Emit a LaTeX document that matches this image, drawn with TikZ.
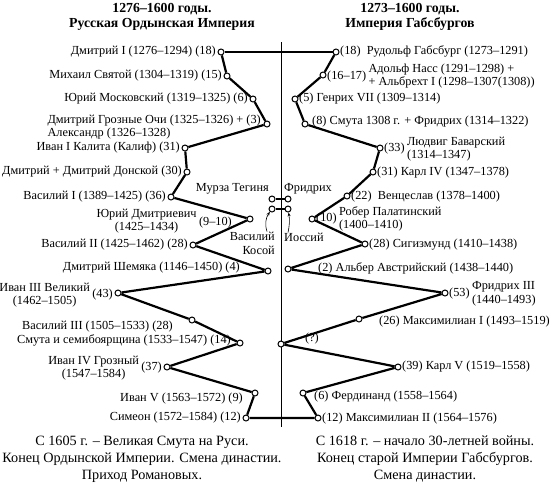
\documentclass[tikz,border=0pt]{standalone}
\usepackage{fontspec}
\setmainfont{Liberation Serif}
\usetikzlibrary{arrows.meta,calc}
\begin{document}
\begin{tikzpicture}[x=1pt,y=-1pt,
  dot/.style={circle,draw,fill=white,line width=1pt,inner sep=0pt,minimum size=6pt},
  conn/.style={line width=2.2pt},
  thin conn/.style={line width=1.6pt},
  axis/.style={line width=1pt},
  lab/.style={font=\fontsize{12.3}{13.8}\selectfont,inner sep=1pt},
  ttl/.style={font=\fontsize{13.8}{14.5}\selectfont\bfseries,align=center,inner sep=0pt},
  note/.style={font=\fontsize{14.2}{17}\selectfont,align=center,inner sep=0pt},
  arr/.style={-{Stealth[length=4pt,width=3pt]},line width=0.6pt}]
\useasboundingbox (0,0) rectangle (551,485);
\fill[white] (0,0) rectangle (551,485);

% titles
\node[ttl] (tl) at (162,17) {1276–1600 годы.\\Русская Ордынская Империя};
\node[ttl] (tr) at (410,17) {1273–1600 годы.\\Империя Габсбургов};

% axis
\coordinate (ctop) at (281,42);
\coordinate (cbot) at (281,427);
\draw[axis] (ctop) -- (cbot);

% left dots
\node[dot] (l1)  at (221,52) {};
\node[dot] (l2)  at (227,76) {};
\node[dot] (l3)  at (253,99) {};
\node[dot] (l4)  at (267,124) {};
\node[dot] (l5)  at (185,148) {};
\node[dot] (l6)  at (187,172) {};
\node[dot] (l7)  at (171,197) {};
\node[dot] (l8)  at (250,219) {};
\node[dot] (l9)  at (193,245) {};
\node[dot] (l10) at (268,271) {};
\node[dot] (l11) at (118,293) {};
\node[dot] (l12) at (192,320) {};
\node[dot] (l13) at (240,343) {};
\node[dot] (l14) at (167,367) {};
\node[dot] (l15) at (255,393) {};
\node[dot] (l16) at (246,418) {};

% right dots
\node[dot] (r1)  at (336,52) {};
\node[dot] (r2)  at (323,75) {};
\node[dot] (r3)  at (295,99) {};
\node[dot] (r4)  at (305,124) {};
\node[dot] (r5)  at (380,148) {};
\node[dot] (r6)  at (373,172) {};
\node[dot] (r7)  at (347,196) {};
\node[dot] (r8)  at (312,219) {};
\node[dot] (r9)  at (365,244) {};
\node[dot] (r10) at (288,269) {};
\node[dot] (r11) at (445,293) {};
\node[dot] (r12) at (359,319) {};
\node[dot] (r13) at (281,344) {};
\node[dot] (r14) at (398,367) {};
\node[dot] (r15) at (303,393) {};
\node[dot] (r16) at (318,418) {};

% central small dots
\node[dot] (t1) at (272,199) {};
\node[dot] (t2) at (288,199) {};
\node[dot] (b1) at (272,209) {};
\node[dot] (b2) at (288,209) {};
\draw[thin conn] (t1) -- (t2);
\draw[thin conn] (b1) -- (b2);

% connectors
\draw[conn] (l1) -- (r1);
\draw[conn] (l1) -- (l2) -- (l3) -- (l4) -- (l5) -- (l6) -- (l7) -- (l8) -- (l9) -- (l10) -- (l11) -- (l12) -- (l13) -- (l14) -- (l15) -- (l16) -- (r16);
\draw[conn] (r1) -- (r2) -- (r3) -- (r4) -- (r5) -- (r6) -- (r7) -- (r8) -- (r9) -- (r10) -- (r11) -- (r12) -- (r13) -- (r14) -- (r15) -- (r16);

% left labels
\node[lab,anchor=east] (a1) at (217,52) {Дмитрий I (1276–1294) (18)};
\node[lab,anchor=east] (a2) at (223,76) {Михаил Святой (1304–1319) (15)};
\node[lab,anchor=east] (a3) at (249,99) {Юрий Московский (1319–1325) (6)};
\node[lab,anchor=east,align=left] (a4) at (262,127) {Дмитрий Грозные Очи (1325–1326) + (3)\\Александр (1326–1328)};
\node[lab,anchor=east] (a5) at (181,148) {Иван I Калита (Калиф) (31)};
\node[lab,anchor=east] (a6) at (183,172) {Дмитрий + Дмитрий Донской (30)};
\node[lab,anchor=east] (a7) at (167,197) {Василий I (1389–1425) (36)};
\node[lab,anchor=east] (a8n) at (233,223) {(9–10)};
\node[lab,anchor=east,align=center] (a8) at ($(a8n.west)+(0,-2)$) {Юрий Дмитриевич\\(1425–1434)};
\node[lab,anchor=east] (a9) at (189,245) {Василий II (1425–1462) (28)};
\node[lab,anchor=east] (a10) at (241,268) {Дмитрий Шемяка (1146–1450) (4)};
\node[lab,anchor=east] (a11n) at (114,295) {(43)};
\node[lab,anchor=east,align=center] (a11) at (a11n.west) {Иван III Великий\\(1462–1505)};
\node[lab,anchor=east] (a12) at (174,327) {Василий III (1505–1533) (28)};
\node[lab,anchor=east] (a13) at (232,340) {Смута и семибоярщина (1533–1547) (14)};
\node[lab,anchor=east] (a14n) at (163,368) {(37)};
\node[lab,anchor=east,align=center] (a14) at (a14n.west) {Иван IV Грозный\\(1547–1584)};
\node[lab,anchor=east] (a15) at (244,399) {Иван V (1563–1572) (9)};
\node[lab,anchor=east] (a16) at (242,418) {Симеон (1572–1584) (12)};

% right labels
\node[lab,anchor=west] (b1l) at (339,51) {(18)~~Рудольф Габсбург (1273–1291)};
\node[lab,anchor=west] (b2n) at (326,77) {(16–17)};
\node[lab,anchor=west,align=left] (b2l) at ($(b2n.east)+(0,-1)$) {Адольф Насс (1291–1298) +\\+ Альбрехт I (1298–1307(1308))};
\node[lab,anchor=west] (b3l) at (298,99) {(5) Генрих VII (1309–1314)};
\node[lab,anchor=west] (b4l) at (311,122) {(8) Смута 1308 г. + Фридрих (1314–1322)};
\node[lab,anchor=west] (b5n) at (383,149) {(33)};
\node[lab,anchor=west,align=left] (b5l) at (b5n.east) {Людвиг Баварский\\(1314–1347)};
\node[lab,anchor=west] (b6l) at (376,173) {(31) Карл IV (1347–1378)};
\node[lab,anchor=west] (b7l) at (350,197) {(22)~~Венцеслав (1378–1400)};
\node[lab,anchor=west] (b8n) at (315,219) {(10)};
\node[lab,anchor=west,align=left] (b8l) at (b8n.east) {Робер Палатинский\\(1400–1410)};
\node[lab,anchor=west] (b9l) at (368,245) {(28) Сигизмунд (1410–1438)};
\node[lab,anchor=west] (b10l) at (317,268) {(2) Альбер Австрийский (1438–1440)};
\node[lab,anchor=west] (b11n) at (448,294) {(53)};
\node[lab,anchor=west,align=left] (b11l) at (b11n.east) {Фридрих III\\(1440–1493)};
\node[lab,anchor=west] (b12l) at (378,322) {(26) Максимилиан I (1493–1519)};
\node[lab] (b13l) at (312,339) {(?)};
\node[lab,anchor=west] (b14l) at (401,367) {(39) Карл V (1519–1558)};
\node[lab,anchor=west] (b15l) at (313,397) {(6) Фердинанд (1558–1564)};
\node[lab,anchor=west] (b16l) at (321,419) {(12) Максимилиан II (1564–1576)};

% centre labels
\node[lab,anchor=east] (mt) at (270,189) {Мурза Тегиня};
\node[lab,anchor=west] (fr) at (283,189) {Фридрих};
\node[lab,anchor=east,align=right] (vk) at (276,243) {Василий\\Косой};
\node[lab,anchor=west] (io) at (283,237) {Иоссий};
\draw[arr] ($(vk.north east)+(-9,1)$) to[bend left=25] (b1);
\draw[arr] ($(io.north west)+(5,1)$) to[bend right=10] (b2);

% bottom notes
\node[note] (nl) at (142,459) {С 1605 г. – Великая Смута на Руси.\\Конец Ордынской Империи. Смена династии.\\Приход Романовых.};
\node[note] (nr) at (425,459) {С 1618 г. – начало 30-летней войны.\\Конец старой Империи Габсбургов.\\Смена династии.};
\end{tikzpicture}
\end{document}
